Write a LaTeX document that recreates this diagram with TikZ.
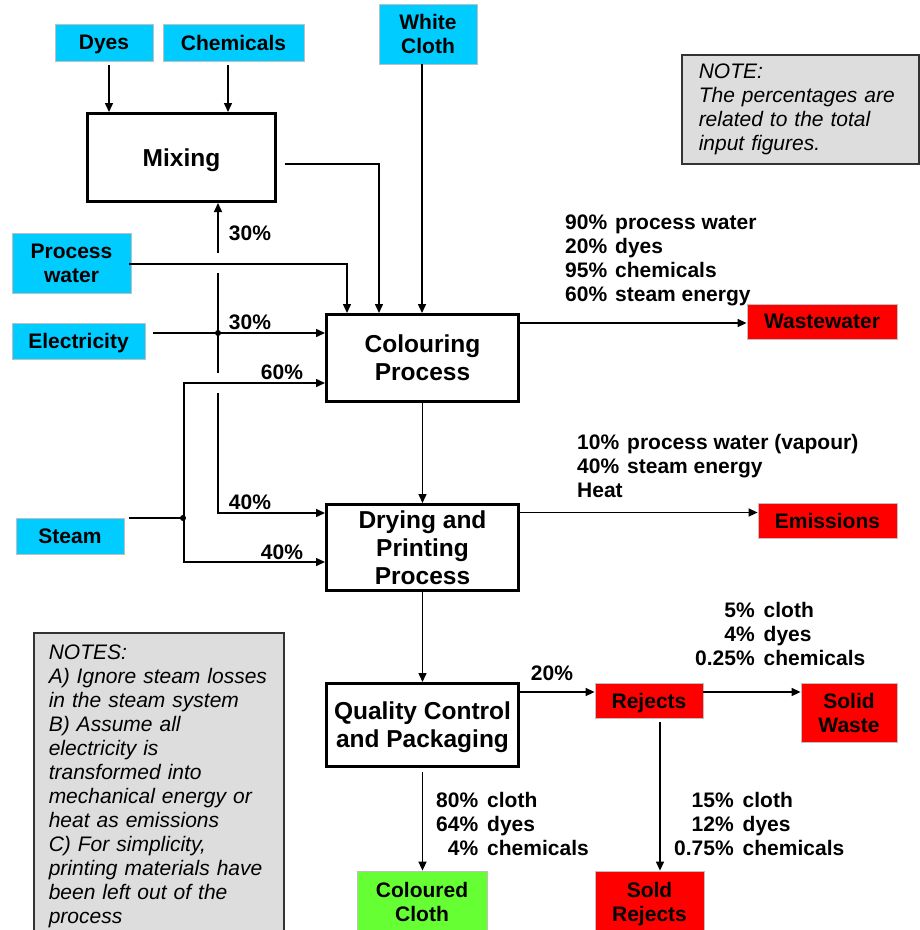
\documentclass[tikz,border=0pt]{standalone}
\usepackage{fontspec}
\setmainfont{Liberation Sans}
\usetikzlibrary{arrows.meta,calc}
\definecolor{feedcyan}{HTML}{00CCFF}
\definecolor{outred}{HTML}{FF0000}
\definecolor{prodgreen}{HTML}{66FF33}
\definecolor{notegray}{HTML}{DDDDDD}

\begin{document}
\begin{tikzpicture}[x=1pt,y=-1pt,
  flowline/.style={line width=1.5pt},
  arr/.style={flowline,-{Triangle[length=9pt,width=8pt]}},
  tagbox/.style={rectangle, draw=black!25, line width=0.8pt, inner sep=1pt,
    text depth=0pt, align=center, font=\bfseries\fontsize{21}{24}\selectfont},
  inbox/.style={tagbox, fill=feedcyan},
  outbox/.style={tagbox, fill=outred},
  goodbox/.style={tagbox, fill=prodgreen},
  procbox/.style={rectangle, draw=black, line width=3.3pt, fill=white, text depth=0pt,
    inner sep=2pt, align=center, font=\bfseries\fontsize{24.5}{28}\selectfont},
  pct/.style={font=\bfseries\fontsize{21}{24}\selectfont, inner sep=0pt},
  flows/.style={font=\bfseries\fontsize{21}{24}\selectfont, inner sep=0pt, anchor=west},
  notebox/.style={rectangle, draw=black!80, line width=1.5pt, fill=notegray,
    anchor=north west, align=left, font=\itshape\fontsize{21}{24}\selectfont},
  jdot/.style={fill=black}
]
\useasboundingbox (0,0) rectangle (920,930);

% inputs
\node[inbox, minimum width=98pt,  minimum height=37pt] (dyes)   at (104,42.5)  {Dyes};
\node[inbox, minimum width=141pt, minimum height=37pt] (chem)   at (233.5,42.5) {Chemicals};
\node[inbox, minimum width=98pt,  minimum height=60pt] (white)  at (428,34)    {White\\Cloth};
\node[inbox, minimum width=119pt, minimum height=60pt] (pwater) at (71.5,263)  {Process\\water};
\node[inbox, minimum width=133pt, minimum height=36pt] (elec)   at (78.5,341)  {Electricity};
\node[inbox, minimum width=108pt, minimum height=36pt] (steam)  at (70,536)    {Steam};

% process steps
\node[procbox, minimum width=187.7pt, minimum height=87.7pt] (mixing) at (181.5,157.5) {Mixing};
\node[procbox, minimum width=191.7pt, minimum height=86.7pt] (colour) at (422.5,358)   {Colouring\\Process};
\node[procbox, minimum width=191.7pt, minimum height=85.7pt] (drying) at (422.5,547.5) {Drying and\\Printing\\Process};
\node[procbox, minimum width=191.7pt, minimum height=82.7pt] (qc)     at (422.5,725)   {Quality Control\\and Packaging};

% outputs
\node[outbox, minimum width=150pt, minimum height=35pt] (waste)   at (822,321.5)  {Wastewater};
\node[outbox, minimum width=139pt, minimum height=35pt] (emis)    at (827.5,520.5) {Emissions};
\node[outbox, minimum width=108pt, minimum height=35pt] (rejects) at (649,700.5)  {Rejects};
\node[outbox, minimum width=96pt,  minimum height=59pt] (solid)   at (849,712.5)  {Solid\\Waste};
\node[outbox, minimum width=109pt, minimum height=62pt] (sold)    at (649.5,902)  {Sold\\Rejects};
\node[goodbox, minimum width=130pt, minimum height=62pt] (cloth)  at (422,902)    {Coloured\\Cloth};

% notes
\node[notebox, text width=203pt, inner xsep=17pt, inner ysep=9pt] (noteA) at (681,54)
  {NOTE:\\The percentages are\\related to the total\\input figures.};
\node[notebox, text width=220pt, inner xsep=15pt, inner ysep=12pt] (noteB) at (33,632)
  {NOTES:\\A) Ignore steam losses\\in the steam system\\B) Assume all\\electricity is\\transformed into\\mechanical energy or\\heat as emissions\\C) For simplicity,\\printing materials have\\been left out of the\\process};

% junctions
\coordinate (ej) at (218,333);
\coordinate (sj) at (184,518);

% feeds into mixing and colouring
\draw[arr] ([shift={(5,4)}]dyes.south) -- ([xshift=5pt]dyes.south |- mixing.north);
\draw[arr] ([shift={(-5.5,4)}]chem.south) -- ([xshift=-5.5pt]chem.south |- mixing.north);
\draw[arr] ([xshift=-6pt]white.south) -- ([xshift=-6pt]white.south |- colour.north);
\draw[arr] ([shift={(7.5,6.5)}]mixing.east) -| ([xshift=-43.5pt]colour.north);
\draw[arr] ([shift={(-2,1)}]pwater.east) -| ([xshift=-75.5pt]colour.north);

% electricity
\draw[arr] ([shift={(8,-8)}]elec.east) -- (ej -| colour.west);
\draw[flowline] (ej) -- ($(ej |- pwater.east)+(0,10)$);
\draw[arr] ($(ej |- pwater.east)+(0,-10)$) -- (ej |- mixing.south);
\draw[flowline] (ej) -- ($(ej |- colour.west)+(0,15)$);
\draw[arr] ($(ej |- colour.west)+(0,35)$) |- ([shift={(0,-34.5)}]drying.west);
\fill[jdot] (ej) circle (3pt);

% steam
\draw[flowline] ([shift={(5,-18)}]steam.east) -- (sj);
\draw[arr] (sj) |- ([shift={(0,25)}]colour.west);
\draw[arr] (sj) |- ([shift={(0,14.5)}]drying.west);
\fill[jdot] ([xshift=-1pt]sj) circle (3pt);

% main line
\draw[arr] (colour.south) -- (drying.north);
\draw[arr] (drying.south) -- (qc.north);
\draw[arr] ([shift={(0,4)}]qc.south) -- (qc.south |- cloth.north);

% outputs
\draw[arr] ([shift={(0,-35)}]colour.east) coordinate (cw) -- (cw -| waste.west);
\draw[arr] ([shift={(0,-35)}]drying.east) coordinate (dw) -- (dw -| emis.west);
\draw[arr] ([shift={(0,-33)}]qc.east) coordinate (qw) -- (qw -| rejects.west);
\draw[arr] ([shift={(0,-8.5)}]rejects.east) coordinate (rw) -- (rw -| solid.west);
\draw[arr] ([shift={(11,4)}]rejects.south) -- ([xshift=11pt]rejects.south |- sold.north);

% shares
\node[pct] (p30m) at (250,233) {30\%};
\node[pct] (p30c) at (250,322) {30\%};
\node[pct] (p60c) at (282,372) {60\%};
\node[pct] (p40e) at (250,502) {40\%};
\node[pct] (p40s) at (282,552) {40\%};
\node[pct] (p20r) at (552,673) {20\%};

% flow contents
\node[flows] (wwtxt) at (565,261) {\begin{tabular}{@{}l@{\hspace{8pt}}l@{}}
  90\% & process water\\ 20\% & dyes\\ 95\% & chemicals\\ 60\% & steam energy\end{tabular}};
\node[flows] (emtxt) at (577,469) {\begin{tabular}{@{}l@{\hspace{8pt}}l@{}}
  10\% & process water (vapour)\\ 40\% & steam energy\\ \multicolumn{2}{@{}l@{}}{Heat}\end{tabular}};
\node[flows] (swtxt) at (695,637) {\begin{tabular}{@{}r@{\hspace{9pt}}l@{}}
  5\% & cloth\\ 4\% & dyes\\ 0.25\% & chemicals\end{tabular}};
\node[flows] (cctxt) at (436,827) {\begin{tabular}{@{}r@{\hspace{9pt}}l@{}}
  80\% & cloth\\ 64\% & dyes\\ 4\% & chemicals\end{tabular}};
\node[flows] (srtxt) at (674,827) {\begin{tabular}{@{}r@{\hspace{9pt}}l@{}}
  15\% & cloth\\ 12\% & dyes\\ 0.75\% & chemicals\end{tabular}};
\end{tikzpicture}
\end{document}
